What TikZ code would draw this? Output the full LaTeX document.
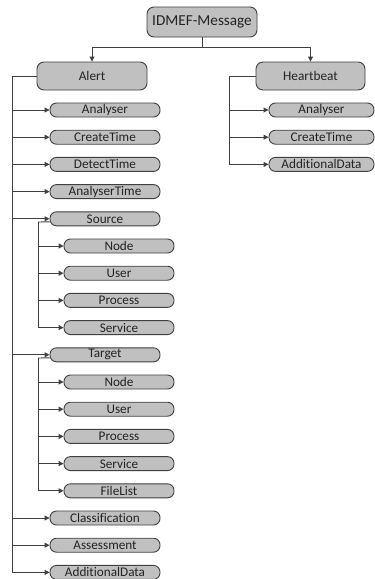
\documentclass[tikz,border=0pt]{standalone}
\usepackage{fontspec}
\setmainfont{Carlito}[Ligatures=NoCommon]
\usetikzlibrary{arrows.meta}
\definecolor{boxc}{RGB}{192,192,192}
\definecolor{linec}{RGB}{64,64,64}
\definecolor{txtc}{RGB}{35,35,35}
\tikzset{
  x=1pt,y=-1pt,
  bigbox/.style={draw=linec, fill=boxc, line width=0.9pt, rounded corners=7pt, minimum width=110pt, minimum height=28pt, inner sep=0pt, text=txtc, font=\fontsize{13.3}{15}\selectfont},
  pill/.style={draw=linec, fill=boxc, line width=0.9pt, rounded corners=6.5pt, minimum width=110pt, minimum height=14pt, inner sep=0pt, text=txtc, font=\fontsize{13.2}{14}\selectfont},
  conn/.style={draw=linec, line width=0.9pt},
  arr/.style={conn, -{Triangle[length=5pt,width=5pt]}},
}
\begin{document}
\begin{tikzpicture}
\useasboundingbox (0,0) rectangle (375,579);
% main nodes
\node[bigbox, minimum height=30pt, font=\fontsize{15.2}{17}\selectfont] (msg) at (202,22) {IDMEF-Message};
\node[bigbox] (alert) at (92,76) {Alert};
\node[bigbox, minimum width=109pt] (hb) at (310.5,76) {Heartbeat};
% alert children
\node[pill] (aan) at (105,110) {Analyser};
\node[pill] (act) at (105,137.2) {CreateTime};
\node[pill] (adt) at (105,164.4) {DetectTime};
\node[pill] (aat) at (105,191.6) {AnalyserTime};
\node[pill] (src) at (105,218.8) {Source};
\node[pill] (sn) at (119,246) {Node};
\node[pill] (su) at (119,273.2) {User};
\node[pill] (sp) at (119,300.4) {Process};
\node[pill] (ss) at (119,327.6) {Service};
\node[pill] (tgt) at (105,354.8) {Target};
\node[pill] (tn) at (119,382) {Node};
\node[pill] (tu) at (119,409.2) {User};
\node[pill] (tp) at (119,436.4) {Process};
\node[pill] (ts) at (119,463.6) {Service};
\node[pill] (tf) at (119,490.8) {FileList};
\node[pill] (acl) at (105,518) {Classification};
\node[pill] (aas) at (105,545.2) {Assessment};
\node[pill] (aad) at (105,572.4) {AdditionalData};
% heartbeat children
\node[pill, minimum width=105pt] (han) at (321.5,110) {Analyser};
\node[pill, minimum width=105pt] (hct) at (321.5,137.2) {CreateTime};
\node[pill, minimum width=105pt] (had) at (321.5,164.4) {AdditionalData};
% connectors top
\coordinate (j) at (202,47);
\draw[conn] (msg.south) -- (j);
\draw[arr] (j) -| (alert.north);
\draw[arr] (j) -| (hb.north);
% alert trunk
\coordinate (at) at (12,76);
\draw[arr] (alert.west) -- (at) |- (aad.west);
\foreach \c in {aan,act,adt,aat,src,tgt,acl,aas}
  \draw[arr] (at |- \c.west) -- (\c.west);
% source trunk
\coordinate (st) at (38,222);
\draw[conn] ([yshift=-3pt]src.west) -- (st);
\draw[arr] (st) |- (ss.west);
\foreach \c in {sn,su,sp}
  \draw[arr] (st |- \c.west) -- (\c.west);
% target trunk
\coordinate (tt) at (38,358);
\draw[conn] ([yshift=-3pt]tgt.west) -- (tt);
\draw[arr] (tt) |- (tf.west);
\foreach \c in {tn,tu,tp,ts}
  \draw[arr] (tt |- \c.west) -- (\c.west);
% heartbeat trunk
\coordinate (ht) at (229,76);
\draw[arr] (hb.west) -- (ht) |- (had.west);
\foreach \c in {han,hct}
  \draw[arr] (ht |- \c.west) -- (\c.west);
\end{tikzpicture}
\end{document}
